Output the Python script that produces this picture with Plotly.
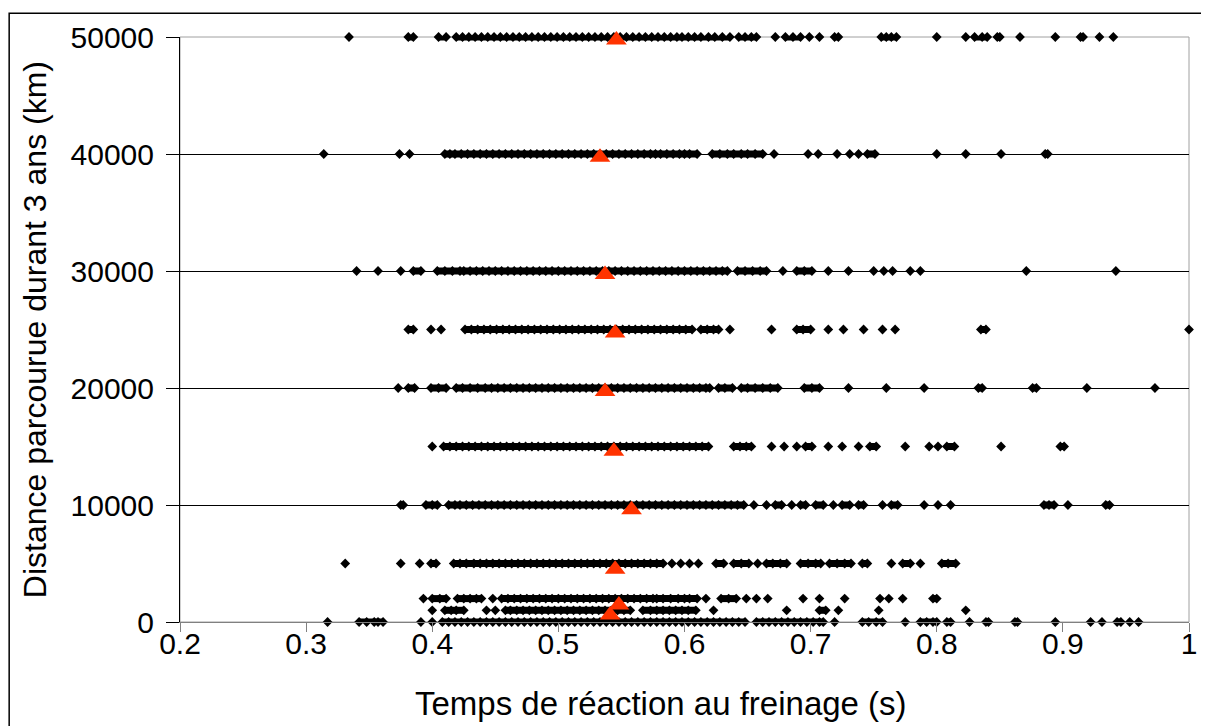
import plotly.graph_objects as go

# Distance levels (km) and braking reaction times (s)
levels = [0, 1000, 2000, 5000, 10000, 15000, 20000, 25000, 30000, 40000, 50000]

t_0 = [0.317, 0.342, 0.348, 0.354, 0.357, 0.361, 0.391, 0.400,
       0.408, 0.413, 0.418, 0.423, 0.428, 0.433, 0.438, 0.443, 0.448, 0.453, 0.458, 0.463,
       0.468, 0.473, 0.478, 0.483, 0.488, 0.493, 0.498, 0.503, 0.508, 0.513, 0.518, 0.523,
       0.528, 0.533, 0.538, 0.543, 0.548, 0.553, 0.558, 0.563, 0.568, 0.573, 0.578, 0.583,
       0.588, 0.593, 0.598, 0.603, 0.608, 0.613, 0.618, 0.623, 0.628, 0.633, 0.638, 0.643,
       0.648, 0.657, 0.662, 0.667, 0.672, 0.677, 0.682, 0.687, 0.692, 0.697, 0.702, 0.707,
       0.710, 0.719, 0.741, 0.746, 0.752, 0.757, 0.775, 0.787, 0.792, 0.797, 0.800, 0.808,
       0.811, 0.826, 0.839, 0.841, 0.862, 0.864, 0.894, 0.922, 0.931, 0.943, 0.946, 0.953, 0.960]

t_1000 = [0.400, 0.410, 0.415, 0.419, 0.425, 0.443, 0.450, 0.458,
          0.462, 0.467, 0.472, 0.477, 0.482, 0.487, 0.492, 0.497, 0.502, 0.507, 0.512, 0.517,
          0.522, 0.527, 0.532, 0.537, 0.542, 0.547, 0.552, 0.557,
          0.567, 0.573, 0.578, 0.583, 0.588, 0.593, 0.598, 0.603, 0.609, 0.623, 0.681, 0.707,
          0.712, 0.722, 0.754, 0.823]

t_2000 = [0.393, 0.400, 0.406, 0.411, 0.420, 0.425, 0.430, 0.435, 0.439, 0.448,
          0.455, 0.460, 0.465, 0.470, 0.475, 0.480, 0.485, 0.490, 0.495, 0.500, 0.505, 0.510,
          0.515, 0.520, 0.525, 0.530, 0.535, 0.540, 0.545, 0.550, 0.555, 0.560, 0.565, 0.570,
          0.575, 0.578, 0.583, 0.589, 0.595, 0.600, 0.604, 0.610, 0.617, 0.629, 0.635, 0.641,
          0.649, 0.657, 0.666, 0.694, 0.707, 0.727, 0.755, 0.762, 0.773, 0.797, 0.800]

t_5000 = [0.331, 0.375, 0.390, 0.399, 0.403, 0.417, 0.422, 0.427,
          0.433, 0.438, 0.443, 0.448, 0.453, 0.458, 0.463, 0.468, 0.473, 0.478, 0.483, 0.488,
          0.493, 0.498, 0.503, 0.508, 0.513, 0.518, 0.523, 0.528, 0.533, 0.538, 0.543, 0.548,
          0.553, 0.558, 0.563, 0.568, 0.573, 0.578, 0.583, 0.590, 0.597, 0.604, 0.611, 0.625,
          0.631, 0.639, 0.645, 0.651, 0.658, 0.665, 0.670, 0.676, 0.681, 0.692, 0.698, 0.704,
          0.708, 0.715, 0.721, 0.727, 0.732, 0.741, 0.745, 0.764, 0.773, 0.779, 0.787, 0.804,
          0.809, 0.815]

t_10000 = [0.375, 0.377, 0.395, 0.400, 0.404, 0.413, 0.418, 0.422,
           0.427, 0.432, 0.437, 0.442, 0.447, 0.452, 0.457, 0.462, 0.467, 0.472, 0.477, 0.482,
           0.487, 0.492, 0.497, 0.502, 0.507, 0.512, 0.517, 0.522, 0.527, 0.532, 0.537, 0.542,
           0.547, 0.552, 0.557, 0.562, 0.567, 0.572, 0.577, 0.582, 0.587, 0.592, 0.597, 0.602,
           0.607, 0.612, 0.617, 0.622, 0.627, 0.632, 0.637, 0.642, 0.647, 0.655, 0.665, 0.672,
           0.677, 0.685, 0.692, 0.696, 0.704, 0.710, 0.718, 0.725, 0.731, 0.738, 0.742, 0.757,
           0.764, 0.769, 0.790, 0.801, 0.811, 0.885, 0.889, 0.893, 0.904, 0.934, 0.937]

t_15000 = [0.400, 0.409,
           0.414, 0.419, 0.424, 0.429, 0.434, 0.439, 0.444, 0.449, 0.454, 0.459, 0.464, 0.469,
           0.474, 0.479, 0.484, 0.489, 0.494, 0.499, 0.504, 0.509, 0.514, 0.519, 0.524, 0.529,
           0.534, 0.539, 0.544, 0.549, 0.554, 0.559, 0.564, 0.569, 0.574, 0.579, 0.584, 0.589,
           0.594, 0.599, 0.604, 0.609, 0.614, 0.619, 0.639, 0.644, 0.649, 0.653, 0.669, 0.679,
           0.689, 0.696, 0.701, 0.714, 0.725, 0.738, 0.747, 0.752, 0.775, 0.794, 0.801, 0.808,
           0.814, 0.851, 0.898, 0.901]

t_20000 = [0.373, 0.381, 0.386, 0.399, 0.405, 0.411, 0.419, 0.424, 0.430, 0.436, 0.442,
           0.447, 0.452, 0.457, 0.462, 0.467, 0.472, 0.477, 0.482, 0.487, 0.492, 0.497, 0.502,
           0.507, 0.512, 0.517, 0.522, 0.527, 0.532, 0.537, 0.542, 0.547, 0.552, 0.557, 0.562,
           0.567, 0.572, 0.577, 0.582, 0.587, 0.592, 0.597, 0.602, 0.607, 0.612, 0.617, 0.620,
           0.627, 0.632, 0.638, 0.645, 0.650, 0.656, 0.662, 0.668, 0.674, 0.695, 0.701, 0.707,
           0.730, 0.760, 0.790, 0.833, 0.836, 0.876, 0.879, 0.919, 0.973]

t_25000 = [0.381, 0.385, 0.399, 0.407,
           0.426, 0.431, 0.436, 0.441, 0.446, 0.451, 0.456, 0.461, 0.466, 0.471, 0.476, 0.481,
           0.486, 0.491, 0.496, 0.501, 0.506, 0.511, 0.516, 0.521, 0.526, 0.531, 0.536, 0.541,
           0.546, 0.551, 0.556, 0.561, 0.566, 0.571, 0.576, 0.581, 0.586, 0.591, 0.596, 0.601,
           0.606, 0.613, 0.618, 0.623, 0.627, 0.636, 0.669, 0.689, 0.694, 0.700, 0.714, 0.726,
           0.742, 0.757, 0.767, 0.835, 0.839, 1.000]

t_30000 = [0.340, 0.357, 0.375, 0.385, 0.391, 0.404, 0.410, 0.416, 0.422,
           0.425, 0.430, 0.435, 0.440, 0.445, 0.450, 0.455, 0.460, 0.465, 0.470, 0.475, 0.480,
           0.485, 0.490, 0.495, 0.500, 0.505, 0.510, 0.515, 0.520, 0.525, 0.530, 0.535, 0.540,
           0.545, 0.550, 0.555, 0.560, 0.565, 0.570, 0.575, 0.580, 0.585, 0.590, 0.595, 0.600,
           0.605, 0.610, 0.615, 0.620, 0.625, 0.630, 0.634, 0.642, 0.648, 0.654, 0.660, 0.665,
           0.678, 0.689, 0.695, 0.701, 0.714, 0.730, 0.750, 0.758, 0.765, 0.779, 0.787, 0.871,
           0.942]

t_40000 = [0.314, 0.374, 0.382, 0.410, 0.414,
           0.418, 0.423, 0.428, 0.433, 0.438, 0.443, 0.448, 0.453, 0.458, 0.463, 0.468, 0.473,
           0.478, 0.483, 0.488, 0.493, 0.498, 0.503, 0.508, 0.513, 0.518, 0.523, 0.528, 0.533,
           0.538, 0.543, 0.548, 0.553, 0.558, 0.563, 0.568, 0.573, 0.577, 0.581, 0.586, 0.591,
           0.596, 0.600, 0.604, 0.610, 0.622, 0.628, 0.634, 0.639, 0.645, 0.650, 0.656, 0.662,
           0.671, 0.698, 0.706, 0.721, 0.731, 0.738, 0.745, 0.751, 0.800, 0.823, 0.851, 0.886,
           0.888]

t_50000 = [0.334, 0.381, 0.385, 0.405, 0.411,
           0.419, 0.424, 0.429, 0.434, 0.439, 0.444, 0.449, 0.454, 0.459, 0.464, 0.469, 0.474,
           0.479, 0.484, 0.489, 0.494, 0.499, 0.504, 0.509, 0.514, 0.519, 0.524, 0.529, 0.534,
           0.539, 0.544, 0.549, 0.554, 0.559, 0.564, 0.569, 0.574, 0.579, 0.584, 0.589, 0.594,
           0.598, 0.603, 0.608, 0.613, 0.619, 0.624, 0.630, 0.636, 0.643, 0.648, 0.653, 0.657,
           0.672, 0.680, 0.686, 0.692, 0.699, 0.707, 0.719, 0.722, 0.756, 0.760, 0.764, 0.768,
           0.800, 0.823, 0.830, 0.836, 0.840, 0.848, 0.850, 0.866, 0.894, 0.914, 0.916, 0.929,
           0.940]

rows = [t_0, t_1000, t_2000, t_5000, t_10000, t_15000, t_20000, t_25000, t_30000, t_40000, t_50000]

# Mean reaction time per distance level (red triangles)
mean_t = [0.556, 0.541, 0.548, 0.545, 0.558, 0.544, 0.537, 0.545, 0.537, 0.533, 0.546]
mean_y = [-420, 600, 1450, 4500, 9600, 14600, 19700, 24700, 29700, 39730, 49750]

x_ticks = [0.2, 0.3, 0.4, 0.5, 0.6, 0.7, 0.8, 0.9, 1.0]
x_tick_text = ["0.2", "0.3", "0.4", "0.5", "0.6", "0.7", "0.8", "0.9", "1"]
y_ticks = [0, 10000, 20000, 30000, 40000, 50000]
y_tick_text = ["0", "10000", "20000", "30000", "40000", "50000"]

FONT = "Liberation Sans, Arial, sans-serif"

fig = go.Figure()

# join overlapping neighbouring observations of each row (dense runs) with a thick bar
for lvl, vals in zip(levels, rows):
    run = [vals[0]]
    for a, b in zip(vals[:-1], vals[1:]):
        if b - a <= 0.0062:
            run.append(b)
        else:
            if len(run) > 1:
                fig.add_trace(go.Scatter(
                    x=[run[0], run[-1]], y=[lvl, lvl], mode="lines",
                    line=dict(color="black", width=7), cliponaxis=False,
                    showlegend=False, hoverinfo="skip"))
            run = [b]
    if len(run) > 1:
        fig.add_trace(go.Scatter(
            x=[run[0], run[-1]], y=[lvl, lvl], mode="lines",
            line=dict(color="black", width=7), cliponaxis=False,
            showlegend=False, hoverinfo="skip"))

xs, ys = [], []
for lvl, vals in zip(levels, rows):
    xs.extend(vals)
    ys.extend([lvl] * len(vals))

fig.add_trace(go.Scatter(
    x=xs, y=ys, mode="markers",
    marker=dict(symbol="diamond", size=7.5, color="black", line=dict(width=0)),
    cliponaxis=False, showlegend=False, hoverinfo="x+y"))
fig.add_trace(go.Scatter(
    x=mean_t, y=mean_y, mode="markers",
    marker=dict(symbol="triangle-up", size=18, color="#FF3300", line=dict(width=0)),
    cliponaxis=False, showlegend=False))

# page body adds an 8px offset; figure laid out so the plot lands at page px 180..1190 / 33..622
OFF = 8
W, H = 1209 - OFF, 726 - OFF
L, R, T, B = 180 - OFF, 1209 - 1190, 33 - OFF, 726 - 622
pw, ph = W - L - R, H - T - B


def px_x(p):
    return (p - OFF - L) / pw


def px_y(p):
    return (H - B - (p - OFF)) / ph


fig.update_layout(
    width=W, height=H,
    margin=dict(l=L, r=R, t=T, b=B),
    paper_bgcolor="white", plot_bgcolor="white",
    font=dict(family=FONT, color="black", size=30),
    xaxis=dict(range=[0.2, 1.0], tickvals=x_ticks, ticktext=x_tick_text,
               showgrid=False, zeroline=False, showline=True, linecolor="#808080",
               linewidth=1, ticks="outside", ticklen=9, tickcolor="#808080",
               ticklabelstandoff=-14,
               tickfont=dict(size=30, family=FONT, color="black")),
    yaxis=dict(range=[0, 50000], tickvals=y_ticks, ticktext=y_tick_text,
               showgrid=True, gridcolor="black",
               gridwidth=1, zeroline=False, showline=True, linecolor="black", linewidth=1,
               ticks="outside", ticklen=13, tickcolor="black",
               ticklabelstandoff=6,
               tickfont=dict(size=30, family=FONT, color="black")),
    annotations=[
        dict(text="Temps de réaction au freinage (s)", xref="paper", yref="paper",
             x=px_x(661), y=px_y(704), xanchor="center", yanchor="middle",
             showarrow=False, font=dict(size=33, family=FONT, color="black")),
        dict(text="Distance parcourue durant 3 ans (km)", xref="paper", yref="paper",
             x=px_x(35), y=px_y(328), xanchor="center", yanchor="middle", textangle=-90,
             showarrow=False, font=dict(size=32, family=FONT, color="black")),
    ],
    shapes=[
        dict(type="rect", xref="paper", yref="paper", x0=0, x1=1, y0=0, y1=1,
             line=dict(color="#a0a0a0", width=1), layer="below"),
        dict(type="rect", xref="paper", yref="paper",
             x0=px_x(OFF + 1), x1=px_x(1260), y0=px_y(780), y1=px_y(OFF + 1),
             line=dict(color="black", width=1.5), layer="below"),
    ],
)

fig.write_html("out.html")
